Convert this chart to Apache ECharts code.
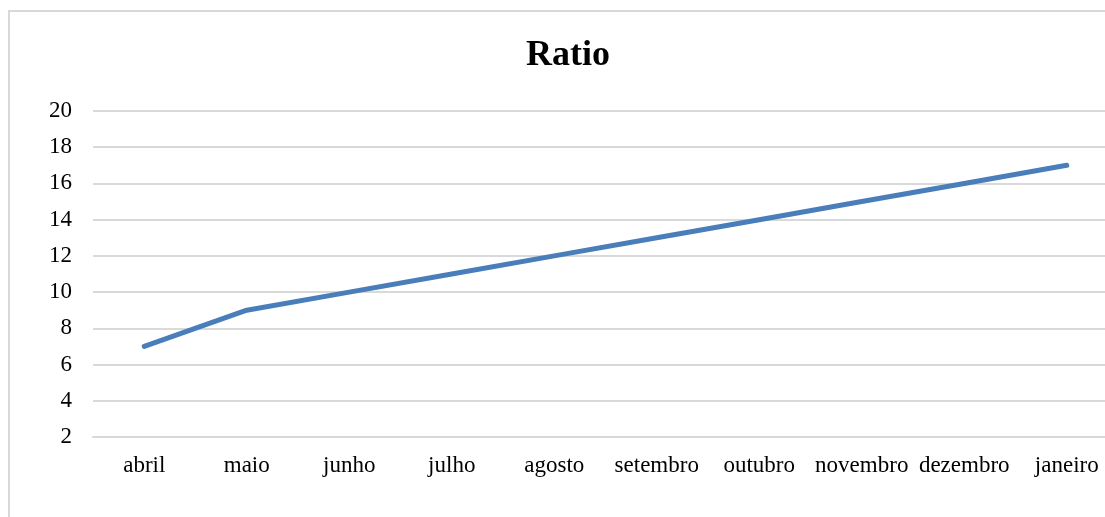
<!DOCTYPE html>
<html>
<head>
<meta charset="utf-8">
<script src="https://cdn.jsdelivr.net/npm/echarts@6/dist/echarts.min.js"></script>
<style>
html, body { margin: 0; padding: 0; background: #fff; }
#chart { width: 1105px; height: 517px; }
</style>
</head>
<body>
<div id="chart"></div>
<script>
const months = ["abril", "maio", "junho", "julho", "agosto", "setembro", "outubro", "novembro", "dezembro", "janeiro"];
const ratioValues = [7, 9, 10, 11, 12, 13, 14, 15, 16, 17];

const myChart = echarts.init(document.getElementById("chart"));
const font = "'Liberation Serif', 'Times New Roman', serif";
myChart.setOption({
    animation: false,
    textStyle: { fontFamily: font },
    graphic: [
        {
            type: "rect",
            shape: { x: 9, y: 11, width: 1200, height: 600 },
            style: { fill: "none", stroke: "#d9d9d9", lineWidth: 2 }
        }
    ],
    title: {
        text: "Ratio",
        left: 563,
        top: 33,
        textAlign: "center",
        textStyle: { fontFamily: font, fontSize: 36, fontWeight: "bold", color: "#000" }
    },
    grid: {
        left: 93,
        top: 111,
        width: 1025,
        bottom: 80,
        containLabel: false,
        outerBoundsMode: "none"
    },
    xAxis: {
        type: "category",
        data: months,
        boundaryGap: true,
        axisLine: { show: true, lineStyle: { color: "#d9d9d9", width: 2 } },
        axisTick: { show: false },
        axisLabel: { color: "#000", fontSize: 23, fontFamily: font, margin: 17, interval: 0 }
    },
    yAxis: {
        type: "value",
        min: 2,
        max: 20,
        interval: 2,
        axisLine: { show: false },
        axisTick: { show: false },
        axisLabel: { color: "#000", fontSize: 23, fontFamily: font, margin: 21 },
        splitLine: { lineStyle: { color: "#d9d9d9", width: 2 } }
    },
    series: [
        {
            name: "Ratio",
            type: "line",
            data: ratioValues,
            symbol: "none",
            lineStyle: { color: "#4a7ebb", width: 5, cap: "round", join: "round" }
        }
    ]
});
</script>
</body>
</html>
